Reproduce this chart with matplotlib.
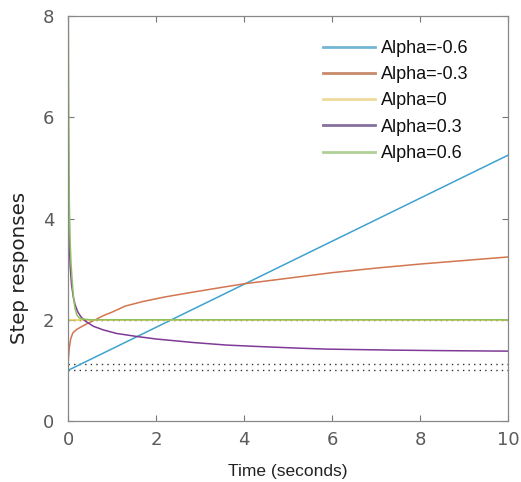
import matplotlib
matplotlib.use("Agg")
import matplotlib.pyplot as plt

# ---- data ----
labels = ["Alpha=-0.6", "Alpha=-0.3", "Alpha=0", "Alpha=0.3", "Alpha=0.6"]
colors = ["#3FA2CF", "#D27550", "#E8CC55", "#7E3A96", "#8FC25E"]
legend_colors = ["#74B6D6", "#C98A6C", "#EED99A", "#85709E", "#B0CF95"]

t_neg06 = [0, 2, 4, 6, 8, 10]
y_neg06 = [1.0, 1.85, 2.7, 3.55, 4.4, 5.25]

t_neg03 = [0, 0.03, 0.06, 0.11, 0.2, 0.3, 0.45, 0.6, 0.8, 1.0, 1.3, 1.7, 2.2, 2.8, 3.5, 4.0, 5.0, 6.0, 7.0, 8.0, 9.0, 10.0]
y_neg03 = [1.12, 1.45, 1.62, 1.74, 1.81, 1.86, 1.93, 1.99, 2.08, 2.15, 2.27, 2.36, 2.45, 2.54, 2.64, 2.71, 2.82, 2.93, 3.02, 3.10, 3.17, 3.24]

t_0 = [0, 10]
y_0 = [2.0, 2.0]

t_03 = [0, 0.005, 0.01, 0.02, 0.03, 0.05, 0.08, 0.12, 0.16, 0.22, 0.3, 0.4, 0.58, 0.8, 1.1, 1.56, 2.0, 2.85, 3.6, 4.36, 5.2, 5.88, 7.39, 8.5, 10.0]
y_03 = [9.0, 6.2, 5.0, 4.0, 3.5, 3.05, 2.7, 2.45, 2.3, 2.16, 2.05, 1.97, 1.87, 1.80, 1.73, 1.67, 1.62, 1.55, 1.50, 1.47, 1.44, 1.42, 1.40, 1.39, 1.38]

t_06 = [0, 0.005, 0.01, 0.02, 0.03, 0.05, 0.07, 0.1, 0.13, 0.16, 0.2, 0.25, 0.3, 0.5, 1.0, 10.0]
y_06 = [12.0, 9.0, 7.5, 5.6, 4.3, 3.5, 3.1, 2.7, 2.4, 2.22, 2.1, 2.04, 2.02, 2.0, 2.0, 2.0]

steady_levels = [2.0, 1.12, 1.0]

xticks = [0, 2, 4, 6, 8, 10]
yticks = [0, 2, 4, 6, 8]

# ---- figure ----
W, H = 521, 482
fig = plt.figure(figsize=(W / 100, H / 100), dpi=100)
ax = fig.add_axes([68 / W, (H - 421) / H, 440 / W, 405 / H])

for lev in steady_levels:
    ax.plot([0, 10], [lev, lev], linestyle=(0, (1, 3)), color="#333333", linewidth=1.0, zorder=1)

series = [(t_neg06, y_neg06), (t_neg03, y_neg03), (t_0, y_0), (t_03, y_03), (t_06, y_06)]
handles = []
for i, (tt, yy) in enumerate(series):
    h, = ax.plot(tt, yy, color=colors[i], linewidth=1.1, label=labels[i], zorder=2)
    handles.append(h)

ax.set_xlim(0, 10)
ax.set_ylim(0, 8)
ax.set_xticks(xticks)
ax.set_yticks(yticks)
ax.tick_params(direction="in", top=True, right=True, length=4, width=0.8,
               colors="#777777", labelcolor="#5a5a5a", labelsize=13)
ax.tick_params(axis="x", pad=7)
ax.tick_params(axis="y", pad=10)
for s in ax.spines.values():
    s.set_color("#888888")
    s.set_linewidth(0.9)
for lab in ax.get_xticklabels() + ax.get_yticklabels():
    lab.set_family("DejaVu Sans")

ax.set_xlabel("Time (seconds)", fontsize=12.5, color="#222222", family="Liberation Sans")
ax.xaxis.set_label_coords(0.5, -0.106)
ax.set_ylabel("Step responses", fontsize=14.3, color="#222222", family="DejaVu Sans")
ax.yaxis.set_label_coords(-0.088, 0.378)

leg = ax.legend(handles=handles, loc="upper left", frameon=False,
                prop={"family": "Liberation Sans", "size": 13},
                handlelength=2.9, handletextpad=0.3, labelspacing=0.51,
                borderpad=0, borderaxespad=0,
                bbox_to_anchor=(323 / W, (H - 40) / H), bbox_transform=fig.transFigure)
for lh, c in zip(leg.get_lines(), legend_colors):
    lh.set_linewidth(2.0)
    lh.set_color(c)
for txt in leg.get_texts():
    txt.set_color("#111111")

fig.savefig("out.png", dpi=100)
